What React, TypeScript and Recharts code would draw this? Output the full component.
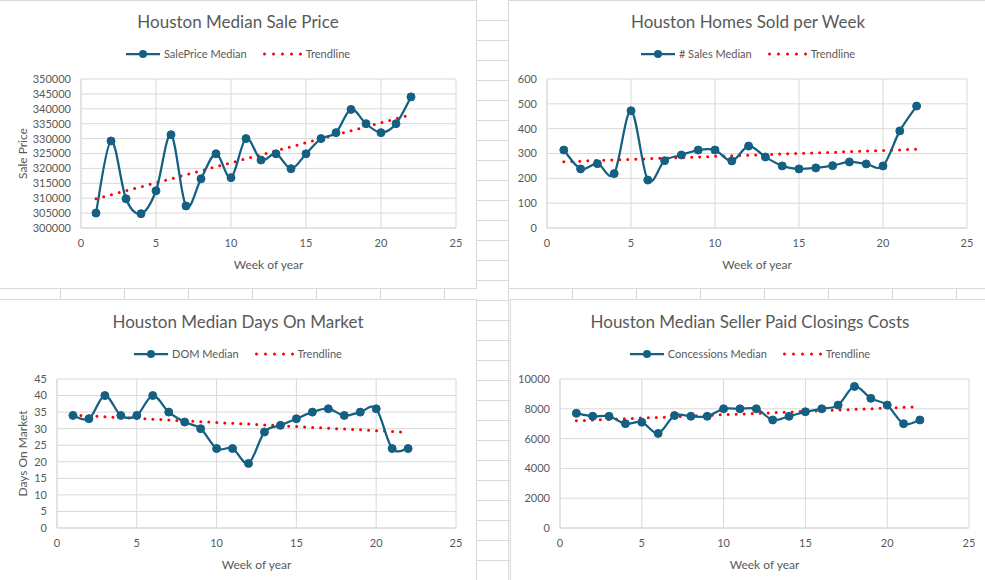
import { LineChart, Line, XAxis, YAxis, CartesianGrid, Label } from 'recharts';

// weekly medians, weeks 1-22
const weeks = [1, 2, 3, 4, 5, 6, 7, 8, 9, 10, 11, 12, 13, 14, 15, 16, 17, 18, 19, 20, 21, 22];
const salePriceMedian = [
  305000, 329200, 309800, 304800, 312500, 331300, 307400, 316500, 324900, 316900, 330000,
  322800, 324900, 319900, 324900, 330000, 332000, 339800, 335000, 332000, 335000, 344000,
];
const salesMedian = [
  314, 238, 259, 219, 472, 193, 271, 294, 314, 314, 270, 330, 286, 250, 238, 242, 251, 266, 258, 250, 391, 491,
];
const domMedian = [34, 33, 40, 34, 34, 40, 35, 32, 30, 24, 24, 19.5, 29, 31, 33, 35, 36, 34, 35, 36, 24, 24];
const concessionsMedian = [
  7700, 7500, 7500, 7000, 7100, 6350, 7550, 7500, 7500, 8000, 8000, 8000, 7250, 7500, 7800, 8000, 8250,
  9500, 8700, 8250, 7000, 7250,
];

// linear trendline end points (first and last week)
const trendWeeks = [1, 22];
const salePriceTrend = [309800, 338000];
const salesTrend = [267, 317];
const domTrend = [34.1, 28.9];
const concessionsTrend = [7200, 8140];

const xTicks = [0, 5, 10, 15, 20, 25];
const salePriceTicks = [300000, 305000, 310000, 315000, 320000, 325000, 330000, 335000, 340000, 345000, 350000];
const salesTicks = [0, 100, 200, 300, 400, 500, 600];
const domTicks = [0, 5, 10, 15, 20, 25, 30, 35, 40, 45];
const concessionsTicks = [0, 2000, 4000, 6000, 8000, 10000];

const SERIES = '#156082';
const TREND = '#ff0000';
const TEXT = '#595959';
const GRID = '#d9d9d9';
const FONT = "Lato, 'Open Sans', sans-serif";

// cardinal-style smoothing (same feel as Excel's "smoothed line")
const smoothCurve = (context: any) => {
  let pts: number[][] = [];
  return {
    areaStart() {},
    areaEnd() {},
    lineStart() {
      pts = [];
    },
    point(x: number, y: number) {
      pts.push([+x, +y]);
    },
    lineEnd() {
      const n = pts.length;
      if (!n) return;
      context.moveTo(pts[0][0], pts[0][1]);
      for (let i = 0; i < n - 1; i++) {
        const p0 = pts[Math.max(i - 1, 0)];
        const p1 = pts[i];
        const p2 = pts[i + 1];
        const p3 = pts[Math.min(i + 2, n - 1)];
        context.bezierCurveTo(
          p1[0] + (p2[0] - p0[0]) / 6,
          p1[1] + (p2[1] - p0[1]) / 6,
          p2[0] - (p3[0] - p1[0]) / 6,
          p2[1] - (p3[1] - p1[1]) / 6,
          p2[0],
          p2[1]
        );
      }
    },
  };
};

type PanelProps = {
  box: { left: number; top: number; width: number; height: number };
  chartHeight: number;
  margin: { top: number; right: number; bottom: number; left: number };
  yWidth: number;
  titleTop: number;
  title: string;
  seriesName: string;
  values: number[];
  trend: number[];
  yTicks: number[];
  yTitle?: string;
};

const SheetGrid = () => {
  const rows = [];
  for (let y = 20; y < 580; y += 20) rows.push(y);
  const cols = [];
  for (let x = 60; x < 985; x += 64) cols.push(x);
  return (
    <svg width={985} height={580} style={{ position: 'absolute', left: 0, top: 0 }}>
      {rows.map((y) => (
        <line key={'r' + y} x1={0} x2={985} y1={y + 0.5} y2={y + 0.5} stroke={GRID} />
      ))}
      {cols.map((x) => (
        <line key={'c' + x} x1={x + 0.5} x2={x + 0.5} y1={0} y2={580} stroke={GRID} />
      ))}
    </svg>
  );
};

const SeriesLegend = ({ name, top }: { name: string; top: number }) => (
  <div
    style={{
      position: 'absolute',
      top,
      left: 0,
      width: '100%',
      height: 15,
      display: 'flex',
      justifyContent: 'center',
      alignItems: 'center',
      fontSize: 11,
      color: TEXT,
    }}
  >
    <svg width={34} height={10}>
      <line x1={0} y1={5} x2={34} y2={5} stroke={SERIES} strokeWidth={2.25} />
      <circle cx={17} cy={5} r={4} fill={SERIES} />
    </svg>
    <span style={{ marginLeft: 4 }}>{name}</span>
    <svg width={40} height={10} style={{ marginLeft: 16 }}>
      <line
        x1={1.5}
        y1={5}
        x2={39}
        y2={5}
        stroke={TREND}
        strokeWidth={3}
        strokeDasharray="0 9"
        strokeLinecap="round"
      />
    </svg>
    <span style={{ marginLeft: 3 }}>Trendline</span>
  </div>
);

const ChartPanel = (p: PanelProps) => {
  const rows = weeks.map((week, i) => ({ week, value: p.values[i] }));
  const trendRows = trendWeeks.map((week, i) => ({ week, trend: p.trend[i] }));
  const chartWidth = p.box.width - 2;
  const yMin = p.yTicks[0];
  const yMax = p.yTicks[p.yTicks.length - 1];

  return (
    <div
      style={{
        position: 'absolute',
        left: p.box.left,
        top: p.box.top,
        width: p.box.width,
        height: p.box.height,
        boxSizing: 'border-box',
        border: `1px solid ${GRID}`,
        background: '#fff',
        fontFamily: FONT,
        overflow: 'hidden',
      }}
    >
      <div
        style={{
          position: 'absolute',
          top: p.titleTop,
          left: 0,
          width: '100%',
          height: 22,
          lineHeight: '22px',
          textAlign: 'center',
          fontSize: 17,
          color: TEXT,
        }}
      >
        {p.title}
      </div>
      <SeriesLegend name={p.seriesName} top={p.titleTop + 35} />
      <LineChart width={chartWidth} height={p.chartHeight} margin={p.margin} data={rows}>
        <CartesianGrid stroke={GRID} />
        <XAxis
          type="number"
          dataKey="week"
          domain={[0, 25]}
          ticks={xTicks}
          interval={0}
          height={40}
          stroke={GRID}
          tickLine={false}
          tickSize={0}
          tickMargin={11}
          tick={{ fill: TEXT, fontSize: 11, fontFamily: FONT }}
        >
          <Label
            content={(props: any) => {
              const vb = props.viewBox;
              return (
                <text
                  x={vb.x + vb.width / 2}
                  y={vb.y + 36}
                  textAnchor="middle"
                  dominantBaseline="central"
                  fill={TEXT}
                  fontSize={12}
                  fontFamily={FONT}
                >
                  Week of year
                </text>
              );
            }}
          />
        </XAxis>
        <YAxis
          type="number"
          domain={[yMin, yMax]}
          ticks={p.yTicks}
          interval={0}
          width={p.yWidth}
          stroke={GRID}
          tickLine={false}
          tickSize={0}
          tickMargin={10}
          tick={{ fill: TEXT, fontSize: 11, fontFamily: FONT }}
        >
          {p.yTitle && (
            <Label
              content={(props: any) => {
                const vb = props.viewBox;
                const cy = vb.y + vb.height / 2;
                return (
                  <text
                    x={22.5}
                    y={cy}
                    transform={`rotate(-90 22.5 ${cy})`}
                    textAnchor="middle"
                    dominantBaseline="central"
                    fill={TEXT}
                    fontSize={12}
                    fontFamily={FONT}
                  >
                    {p.yTitle}
                  </text>
                );
              }}
            />
          )}
        </YAxis>
        <Line
          data={trendRows}
          dataKey="trend"
          type="linear"
          stroke={TREND}
          strokeWidth={3}
          strokeDasharray="0 8"
          strokeLinecap="round"
          dot={false}
          activeDot={false}
          isAnimationActive={false}
        />
        <Line
          dataKey="value"
          type={smoothCurve as any}
          stroke={SERIES}
          strokeWidth={2.25}
          dot={{ r: 4, fill: SERIES, stroke: SERIES, strokeWidth: 1 }}
          activeDot={false}
          isAnimationActive={false}
        />
      </LineChart>
    </div>
  );
};

export default function App() {
  return (
    <div
      style={{
        position: 'absolute',
        left: 0,
        top: 0,
        width: 985,
        height: 580,
        overflow: 'hidden',
        background: '#fff',
      }}
    >
      <SheetGrid />
      <ChartPanel
        box={{ left: -1, top: 0, width: 478, height: 289 }}
        chartHeight={287}
        margin={{ top: 78, right: 20, bottom: 20, left: 21 }}
        yWidth={60}
        titleTop={10}
        title="Houston Median Sale Price"
        seriesName="SalePrice Median"
        values={salePriceMedian}
        trend={salePriceTrend}
        yTicks={salePriceTicks}
        yTitle="Sale Price"
      />
      <ChartPanel
        box={{ left: 508, top: 0, width: 480, height: 289 }}
        chartHeight={287}
        margin={{ top: 78, right: 20, bottom: 20, left: 0 }}
        yWidth={38}
        titleTop={10}
        title="Houston Homes Sold per Week"
        seriesName="# Sales Median"
        values={salesMedian}
        trend={salesTrend}
        yTicks={salesTicks}
      />
      <ChartPanel
        box={{ left: -1, top: 299, width: 478, height: 290 }}
        chartHeight={280}
        margin={{ top: 79, right: 20, bottom: 12, left: 17 }}
        yWidth={40}
        titleTop={11}
        title="Houston Median Days On Market"
        seriesName="DOM Median"
        values={domMedian}
        trend={domTrend}
        yTicks={domTicks}
        yTitle="Days On Market"
      />
      <ChartPanel
        box={{ left: 510, top: 299, width: 480, height: 290 }}
        chartHeight={280}
        margin={{ top: 79, right: 20, bottom: 12, left: 0 }}
        yWidth={49}
        titleTop={11}
        title="Houston Median Seller Paid Closings Costs"
        seriesName="Concessions Median"
        values={concessionsMedian}
        trend={concessionsTrend}
        yTicks={concessionsTicks}
      />
    </div>
  );
}
